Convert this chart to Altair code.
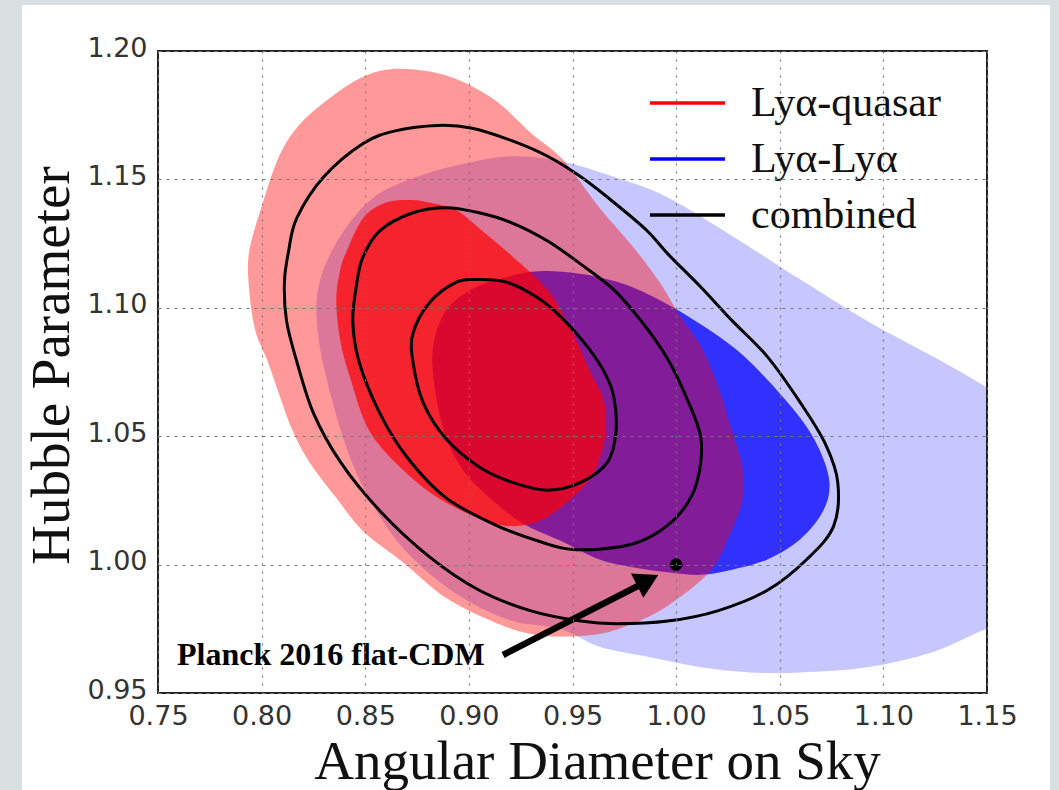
import altair as alt
import pandas as pd

# ---------------- data ----------------
x_ticks = [0.75, 0.80, 0.85, 0.90, 0.95, 1.00, 1.05, 1.10, 1.15]
y_ticks = [0.95, 1.00, 1.05, 1.10, 1.15, 1.20]

series_names = ["Lyα-quasar", "Lyα-Lyα", "combined"]
series_colors = ["#ff0000", "#0000ff", "#000000"]

# Lyα-quasar 2σ region
red_outer_x = [0.863, 0.881, 0.897, 0.914, 0.930, 0.945, 0.963, 0.979, 0.992, 1.001,
               1.012, 1.020, 1.027, 1.032, 1.032, 1.025, 1.016, 0.996, 0.979, 0.963,
               0.944, 0.930, 0.914, 0.889, 0.868, 0.849, 0.836, 0.823, 0.815, 0.809,
               0.803, 0.797, 0.794, 0.794, 0.801, 0.809, 0.819, 0.835, 0.849]
red_outer_y = [1.193, 1.192, 1.188, 1.180, 1.168, 1.158, 1.139, 1.124, 1.110, 1.098,
               1.085, 1.070, 1.052, 1.038, 1.025, 1.010, 0.997, 0.984, 0.977, 0.973,
               0.972, 0.973, 0.977, 0.987, 1.001, 1.013, 1.026, 1.040, 1.052, 1.065,
               1.079, 1.091, 1.107, 1.122, 1.142, 1.160, 1.172, 1.183, 1.190]

# Lyα-quasar 1σ region
red_inner_x = [0.872, 0.881, 0.894, 0.905, 0.921, 0.938, 0.949, 0.958, 0.965, 0.966,
               0.963, 0.958, 0.947, 0.934, 0.920, 0.905, 0.885, 0.868, 0.852, 0.843,
               0.838, 0.836, 0.838, 0.841, 0.849, 0.860]
red_inner_y = [1.142, 1.141, 1.138, 1.131, 1.120, 1.107, 1.092, 1.076, 1.064, 1.052,
               1.041, 1.033, 1.024, 1.017, 1.015, 1.018, 1.026, 1.037, 1.052, 1.072,
               1.087, 1.103, 1.115, 1.122, 1.135, 1.141]

# Lyα-Lyα 2σ region
blue_outer_x = [0.875, 0.897, 0.921, 0.945, 0.970, 0.996, 1.027, 1.060, 1.092, 1.124,
                1.150, 1.176, 1.197, 1.209, 1.205, 1.185, 1.166, 1.150, 1.124, 1.092,
                1.060, 1.036, 1.012, 0.987, 0.963, 0.944, 0.921, 0.897, 0.876, 0.860,
                0.845, 0.834, 0.827, 0.828, 0.838, 0.854]
blue_outer_y = [1.151, 1.156, 1.159, 1.157, 1.151, 1.143, 1.128, 1.111, 1.095, 1.081,
                1.069, 1.056, 1.039, 1.017, 0.996, 0.982, 0.977, 0.975, 0.966, 0.960,
                0.958, 0.958, 0.960, 0.964, 0.968, 0.975, 0.978, 0.987, 1.000, 1.015,
                1.037, 1.064, 1.091, 1.110, 1.128, 1.143]

# Lyα-Lyα 1σ region
blue_inner_x = [0.945, 0.962, 0.979, 1.001, 1.027, 1.044, 1.060, 1.069, 1.074, 1.071,
                1.060, 1.044, 1.027, 1.012, 0.996, 0.979, 0.963, 0.945, 0.926, 0.910,
                0.897, 0.888, 0.883, 0.883, 0.889, 0.901, 0.914, 0.930]
blue_inner_y = [1.114, 1.112, 1.108, 1.099, 1.085, 1.072, 1.057, 1.045, 1.032, 1.021,
                1.010, 1.002, 0.998, 0.996, 0.997, 0.999, 1.002, 1.009, 1.016, 1.026,
                1.037, 1.052, 1.072, 1.086, 1.099, 1.107, 1.111, 1.114]

# combined contours (outer, middle, inner)
comb_outer_x = [0.885, 0.901, 0.921, 0.938, 0.954, 0.970, 0.986, 0.996, 1.012, 1.027,
                1.044, 1.060, 1.072, 1.078, 1.076, 1.063, 1.044, 1.020, 0.996, 0.971,
                0.954, 0.930, 0.905, 0.881, 0.857, 0.838, 0.825, 0.817, 0.812, 0.811,
                0.813, 0.817, 0.830, 0.849, 0.865]
comb_outer_y = [1.171, 1.170, 1.165, 1.159, 1.151, 1.141, 1.130, 1.121, 1.108, 1.095,
                1.081, 1.063, 1.047, 1.032, 1.015, 1.002, 0.990, 0.982, 0.978, 0.977,
                0.978, 0.982, 0.990, 1.003, 1.021, 1.040, 1.059, 1.079, 1.095, 1.110,
                1.122, 1.135, 1.151, 1.164, 1.169]

comb_mid_x = [0.889, 0.905, 0.921, 0.938, 0.954, 0.970, 0.984, 0.996, 1.005, 1.012,
              1.010, 1.003, 0.992, 0.979, 0.963, 0.949, 0.938, 0.914, 0.889, 0.870,
              0.857, 0.847, 0.844, 0.846, 0.849, 0.857, 0.873]
comb_mid_y = [1.139, 1.137, 1.133, 1.126, 1.117, 1.107, 1.094, 1.080, 1.065, 1.049,
              1.032, 1.021, 1.013, 1.008, 1.006, 1.006, 1.008, 1.015, 1.026, 1.042,
              1.059, 1.079, 1.095, 1.110, 1.120, 1.130, 1.137]

comb_inner_x = [0.904, 0.918, 0.933, 0.945, 0.958, 0.966, 0.970, 0.971, 0.967, 0.954,
                0.938, 0.921, 0.905, 0.889, 0.878, 0.873, 0.873, 0.881, 0.894]
comb_inner_y = [1.111, 1.110, 1.104, 1.096, 1.084, 1.074, 1.065, 1.052, 1.040, 1.032,
                1.029, 1.032, 1.038, 1.049, 1.063, 1.079, 1.090, 1.102, 1.110]

# Planck 2016 point and annotation
planck_x = [1.00]
planck_y = [1.00]
planck_label = ["Planck 2016 flat-CDM"]
label_x = [0.7592]
label_y = [0.9609]
arrow_x = [0.9165, 0.9826]
arrow_y = [0.9648, 0.9921]
head_x = [0.9863]
head_y = [0.9939]

# ---------------- tables ----------------
def contour(xs, ys, name, series):
    return pd.DataFrame({"x": xs, "y": ys, "idx": list(range(len(xs))),
                         "contour": name, "series": series})

df_red_outer = contour(red_outer_x, red_outer_y, "red2", series_names[0])
df_red_inner = contour(red_inner_x, red_inner_y, "red1", series_names[0])
df_blue_outer = contour(blue_outer_x, blue_outer_y, "blue2", series_names[1])
df_blue_inner = contour(blue_inner_x, blue_inner_y, "blue1", series_names[1])
df_comb = pd.concat([
    contour(comb_outer_x, comb_outer_y, "c3", series_names[2]),
    contour(comb_mid_x, comb_mid_y, "c2", series_names[2]),
    contour(comb_inner_x, comb_inner_y, "c1", series_names[2]),
], ignore_index=True)

df_planck = pd.DataFrame({"x": planck_x, "y": planck_y})
df_label = pd.DataFrame({"x": label_x, "y": label_y, "t": planck_label})
df_arrow = pd.DataFrame({"x": arrow_x, "y": arrow_y, "idx": [0, 1]})
df_head = pd.DataFrame({"x": head_x, "y": head_y})
df_one = pd.DataFrame({"a": [0]})

# ---------------- encodings ----------------
W, H = 829, 642

xscale = alt.Scale(domain=[0.75, 1.15], nice=False, zero=False)
yscale = alt.Scale(domain=[0.95, 1.20], nice=False, zero=False)

xaxis = alt.Axis(values=x_ticks, format=".2f", title="Angular Diameter on Sky",
                 grid=True, gridDash=[2, 6], gridColor="#777777", gridWidth=1.2,
                 ticks=False, tickSize=0, domain=False,
                 labelFont="DejaVu Sans", labelFontSize=27, labelColor="#333333",
                 labelPadding=31, labelBaseline="alphabetic",
                 labelFlush=False, labelOverlap=False,
                 titleFont="Liberation Serif", titleFontSize=55, titleFontWeight="normal",
                 titleColor="#111111", titleX=439, titleY=85, titleAlign="center",
                 titleBaseline="alphabetic", zindex=1)
yaxis = alt.Axis(values=y_ticks, format=".2f", title="Hubble Parameter",
                 grid=True, gridDash=[3, 5], gridColor="#777777", gridWidth=1.2,
                 ticks=False, tickSize=0, domain=False,
                 labelFont="DejaVu Sans", labelFontSize=27, labelColor="#333333",
                 labelPadding=11, labelBaseline="middle", labelOffset=-3,
                 labelFlush=False, labelOverlap=False,
                 titleFont="Liberation Serif", titleFontSize=55, titleFontWeight="normal",
                 titleColor="#111111", titleX=-90, titleY=314, titleAngle=-90,
                 titleAlign="center", titleBaseline="alphabetic", zindex=1)

X = alt.X("x:Q", scale=xscale, axis=xaxis)
Y = alt.Y("y:Q", scale=yscale, axis=yaxis)

panel = alt.Chart(df_one).mark_rect(color="white").encode(
    x=alt.value(22 - 158), x2=alt.value(1050 - 158),
    y=alt.value(5 - 51), y2=alt.value(800 - 51))


def fill_layer(df, color, alpha):
    return alt.Chart(df).mark_line(
        filled=True, interpolate="cardinal-closed", fill=color,
        fillOpacity=alpha, strokeWidth=0, clip=True
    ).encode(x=X, y=Y, order=alt.Order("idx:Q"))


blue2 = fill_layer(df_blue_outer, "#0000ff", 0.22)
blue1 = fill_layer(df_blue_inner, "#0000ff", 0.76)
red2 = fill_layer(df_red_outer, "#ff0000", 0.40)
red1 = fill_layer(df_red_inner, "#ff0000", 0.70)

lines = alt.Chart(df_comb).mark_line(
    interpolate="cardinal-closed", strokeWidth=3, clip=True
).encode(
    x=X, y=Y, detail="contour:N", order=alt.Order("idx:Q"),
    stroke=alt.Stroke("series:N",
                      scale=alt.Scale(domain=series_names, range=series_colors),
                      legend=alt.Legend(title=None, orient="none", legendX=490, legendY=42,
                                        symbolType="stroke", symbolSize=5625,
                                        symbolStrokeWidth=3.5, clipHeight=20,
                                        labelFont="Liberation Serif", labelFontSize=42,
                                        labelColor="#111111", labelOffset=24,
                                        rowPadding=14, labelLimit=500))
)

dot = alt.Chart(df_planck).mark_point(filled=True, color="black", size=160, opacity=1).encode(x=X, y=Y)

shaft = alt.Chart(df_arrow).mark_line(color="black", strokeWidth=6.5).encode(
    x=X, y=Y, order=alt.Order("idx:Q"))

head = alt.Chart(df_head).mark_point(shape="triangle-up", filled=True, color="black",
                                     size=750, angle=63, opacity=1).encode(x=X, y=Y)

label = alt.Chart(df_label).mark_text(font="Liberation Serif", fontSize=32, fontWeight="bold",
                                      align="left", baseline="alphabetic", color="black").encode(
    x=X, y=Y, text="t:N")

frame = alt.Chart(df_one).mark_rect(fill="transparent", stroke="#222222", strokeWidth=2).encode(
    x=alt.value(0), x2=alt.value(W), y=alt.value(0), y2=alt.value(H))

chart = alt.layer(panel, blue2, blue1, red2, red1, lines, dot, shaft, head, label, frame).properties(
    width=W, height=H,
    autosize=alt.AutoSizeParams(type="none"),
    padding={"left": 158, "top": 51, "right": 72, "bottom": 97},
    background="#d9dfe1",
).configure_view(stroke=None)

chart.save("out.html", embed_options={"renderer": "svg", "actions": False})
